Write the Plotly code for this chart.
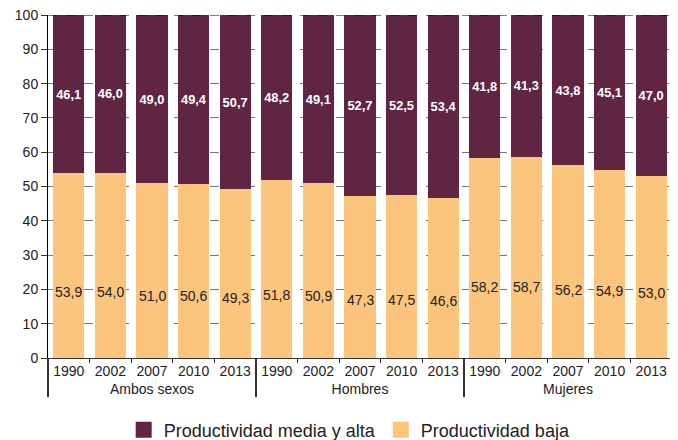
import plotly.graph_objects as go

groups = ["Ambos sexos"] * 5 + ["Hombres"] * 5 + ["Mujeres"] * 5
years = ["1990", "2002", "2007", "2010", "2013"] * 3
baja = [53.9, 54.0, 51.0, 50.6, 49.3, 51.8, 50.9, 47.3, 47.5, 46.6, 58.2, 58.7, 56.2, 54.9, 53.0]
media_alta = [46.1, 46.0, 49.0, 49.4, 50.7, 48.2, 49.1, 52.7, 52.5, 53.4, 41.8, 41.3, 43.8, 45.1, 47.0]

DARK = "#5F2542"
LIGHT = "#FBC57D"
FONT = "Liberation Sans, Arial, sans-serif"

fig = go.Figure()
fig.add_trace(go.Bar(
    x=[groups, years], y=baja, name="Productividad baja",
    marker=dict(color=LIGHT, line=dict(width=0)),
    showlegend=False,
))
fig.add_trace(go.Bar(
    x=[groups, years], y=media_alta, name="Productividad media y alta",
    marker=dict(color=DARK, line=dict(width=0)),
    texttemplate="%{y:.1f}", textposition="inside", insidetextanchor="middle",
    textfont=dict(color="white", size=14, family=FONT, weight="bold"),
    textangle=0, showlegend=False,
))

# legend-only entries with larger square swatches (on a hidden axis pair)
for name, col in [("Productividad media y alta", DARK), ("Productividad baja", LIGHT)]:
    fig.add_trace(go.Scatter(
        x=[None], y=[None], mode="markers", name=name,
        marker=dict(symbol="square", size=17, color=col), showlegend=True,
        hoverinfo="skip", xaxis="x2", yaxis="y2",
    ))

for g, yr, v in zip(groups, years, baja):
    fig.add_annotation(
        x=[g, yr], y=v * 0.355, text=f"{v:.1f}".replace(".", ","),
        showarrow=False, font=dict(color="#222222", size=14, family=FONT),
    )

fig.add_shape(type="line", xref="paper", yref="y", x0=0, x1=1, y0=100, y1=100,
              line=dict(color="black", width=1, dash="dash"))

fig.update_layout(
    barmode="stack",
    bargap=0.25,
    width=670, height=432,
    margin=dict(l=40, r=6, t=7, b=82),
    plot_bgcolor="white", paper_bgcolor="white",
    separators=",.",
    font=dict(family=FONT, size=14, color="#222222"),
    legend=dict(orientation="h", x=0.51, xanchor="center", xref="container",
                y=0.023, yanchor="middle", yref="container", traceorder="normal",
                font=dict(size=18, color="#222222"), itemwidth=30),
    xaxis2=dict(visible=False, overlaying="x", range=[0, 1]),
    yaxis2=dict(visible=False, overlaying="y", range=[0, 1]),
    yaxis=dict(
        range=[0, 100], dtick=10, tick0=0,
        showgrid=True, gridcolor="#777777", griddash="dash", gridwidth=1,
        ticks="outside", ticklen=6, tickcolor="#333333",
        showline=True, linecolor="black", linewidth=1,
        zeroline=False, tickfont=dict(size=14), automargin=False,
        ticklabeloverflow="allow",
    ),
    xaxis=dict(
        showline=True, linecolor="#333333", linewidth=1,
        ticks="outside", ticklen=4, tickcolor="#333333",
        showdividers=True, dividercolor="#333333", dividerwidth=1.5,
        tickfont=dict(size=14), automargin=False,
    ),
)

fig.write_html("out.html")
